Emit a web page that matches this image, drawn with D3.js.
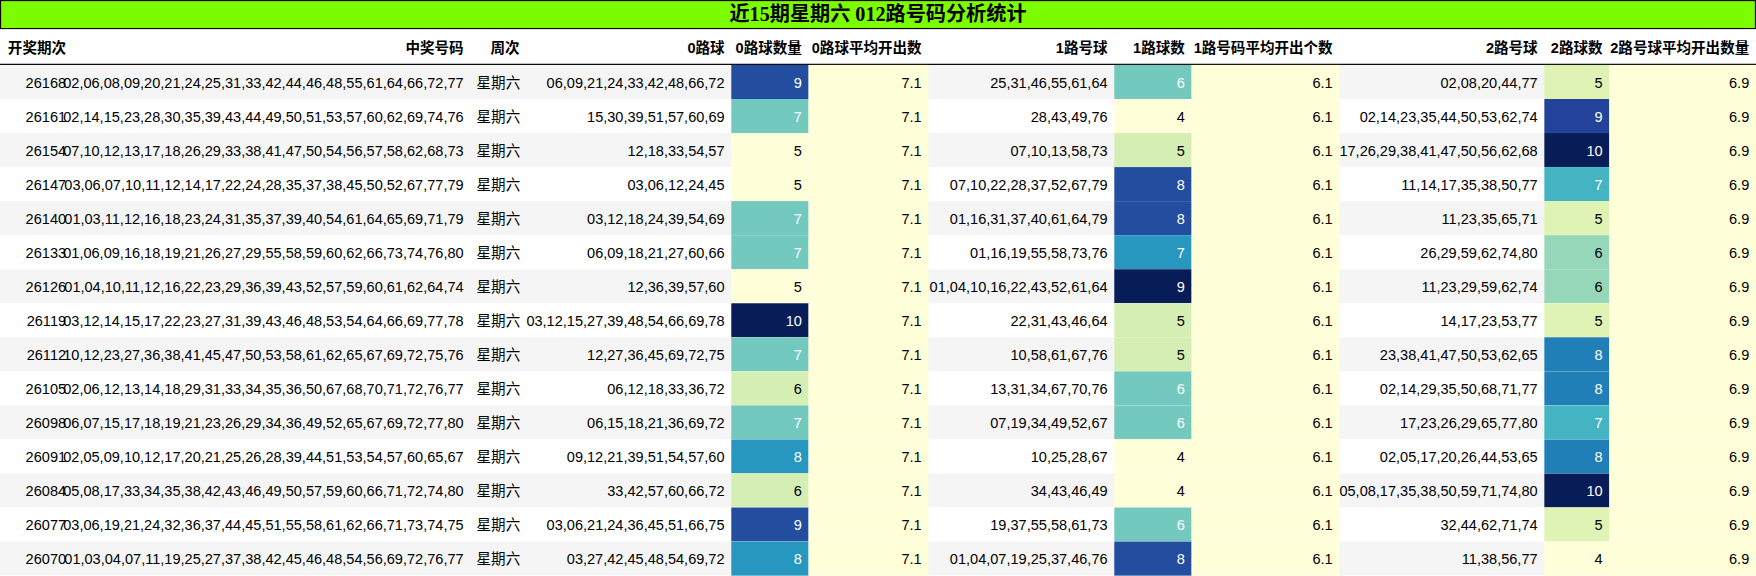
<!DOCTYPE html>
<html><head><meta charset="utf-8">
<script src="https://cdn.jsdelivr.net/npm/d3@7"></script>
<style>body{margin:0;background:#fff}svg{display:block}text{font-family:"Liberation Sans",Arial,"Noto Sans CJK SC",sans-serif;font-size:13px;fill:#000}</style>
</head><body><svg id="c" width="1756" height="576"></svg>
<script>
const title = "近15期星期六 012路号码分析统计";
const headers = ["开奖期次","中奖号码","周次","0路球","0路球数量","0路球平均开出数","1路号球","1路球数","1路号码平均开出个数","2路号球","2路球数","2路号球平均开出数量"];
const periods = ["26168","26161","26154","26147","26140","26133","26126","26119","26112","26105","26098","26091","26084","26077","26070"];
const winning = [
"02,06,08,09,20,21,24,25,31,33,42,44,46,48,55,61,64,66,72,77",
"02,14,15,23,28,30,35,39,43,44,49,50,51,53,57,60,62,69,74,76",
"07,10,12,13,17,18,26,29,33,38,41,47,50,54,56,57,58,62,68,73",
"03,06,07,10,11,12,14,17,22,24,28,35,37,38,45,50,52,67,77,79",
"01,03,11,12,16,18,23,24,31,35,37,39,40,54,61,64,65,69,71,79",
"01,06,09,16,18,19,21,26,27,29,55,58,59,60,62,66,73,74,76,80",
"01,04,10,11,12,16,22,23,29,36,39,43,52,57,59,60,61,62,64,74",
"03,12,14,15,17,22,23,27,31,39,43,46,48,53,54,64,66,69,77,78",
"10,12,23,27,36,38,41,45,47,50,53,58,61,62,65,67,69,72,75,76",
"02,06,12,13,14,18,29,31,33,34,35,36,50,67,68,70,71,72,76,77",
"06,07,15,17,18,19,21,23,26,29,34,36,49,52,65,67,69,72,77,80",
"02,05,09,10,12,17,20,21,25,26,28,39,44,51,53,54,57,60,65,67",
"05,08,17,33,34,35,38,42,43,46,49,50,57,59,60,66,71,72,74,80",
"03,06,19,21,24,32,36,37,44,45,51,55,58,61,62,66,71,73,74,75",
"01,03,04,07,11,19,25,27,37,38,42,45,46,48,54,56,69,72,76,77"];
const weekday = "星期六";
const road0 = ["06,09,21,24,33,42,48,66,72","15,30,39,51,57,60,69","12,18,33,54,57","03,06,12,24,45","03,12,18,24,39,54,69","06,09,18,21,27,60,66","12,36,39,57,60","03,12,15,27,39,48,54,66,69,78","12,27,36,45,69,72,75","06,12,18,33,36,72","06,15,18,21,36,69,72","09,12,21,39,51,54,57,60","33,42,57,60,66,72","03,06,21,24,36,45,51,66,75","03,27,42,45,48,54,69,72"];
const count0 = [9,7,5,5,7,7,5,10,7,6,7,8,6,9,8];
const road1 = ["25,31,46,55,61,64","28,43,49,76","07,10,13,58,73","07,10,22,28,37,52,67,79","01,16,31,37,40,61,64,79","01,16,19,55,58,73,76","01,04,10,16,22,43,52,61,64","22,31,43,46,64","10,58,61,67,76","13,31,34,67,70,76","07,19,34,49,52,67","10,25,28,67","34,43,46,49","19,37,55,58,61,73","01,04,07,19,25,37,46,76"];
const count1 = [6,4,5,8,8,7,9,5,5,6,6,4,4,6,8];
const road2 = ["02,08,20,44,77","02,14,23,35,44,50,53,62,74","17,26,29,38,41,47,50,56,62,68","11,14,17,35,38,50,77","11,23,35,65,71","26,29,59,62,74,80","11,23,29,59,62,74","14,17,23,53,77","23,38,41,47,50,53,62,65","02,14,29,35,50,68,71,77","17,23,26,29,65,77,80","02,05,17,20,26,44,53,65","05,08,17,35,38,50,59,71,74,80","32,44,62,71,74","11,38,56,77"];
const count2 = [5,9,10,7,5,6,6,5,8,8,7,8,10,5,4];
const avg0 = 7.1, avg1 = 6.1, avg2 = 6.9;

const edges = [0,65,420,470,653,722,829,995,1064,1196,1379,1437,1568];
const W = edges[edges.length-1];
const svg = d3.select("#c").append("g").attr("transform",`scale(${1756/1568})`);
const y = d3.scaleBand().domain(periods).range([58, 514]).padding(0);

svg.append("rect").attr("x",0.5).attr("y",0.5).attr("width",W-1).attr("height",25).attr("fill","#7cfc00").attr("stroke","#000");
svg.append("text").attr("x",W/2).attr("y",19).attr("text-anchor","middle").style("font-size","18px").style("font-weight","bold").style("font-family","'Liberation Serif','Noto Sans CJK SC',serif").text(title);

headers.forEach((h,i)=>{
  const t = svg.append("text").attr("y",47).style("font-weight","bold").text(h);
  if(i===0) t.attr("x",7);
  else t.attr("x",edges[i+1]-6).attr("text-anchor","end");
});
svg.append("line").attr("x1",0).attr("x2",W).attr("y1",57.5).attr("y2",57.5).attr("stroke","#000");

const colors = [count0,count1,count2].map(c=>d3.scaleSequential(d3.interpolateYlGnBu).domain(d3.extent(c)));
const avgFill = d3.interpolateYlGnBu(0);

periods.forEach((p,r)=>{
  const y0 = y(p), h = y.bandwidth(), ty = y0 + h/2 + 5;
  svg.append("rect").attr("x",0).attr("y",y0).attr("width",W).attr("height",h).attr("fill", r%2===0?"#f5f5f5":"#ffffff");
  const cells = [periods[r], winning[r], weekday, road0[r], count0[r], avg0.toFixed(1), road1[r], count1[r], avg1.toFixed(1), road2[r], count2[r], avg2.toFixed(1)];
  cells.forEach((v,i)=>{
    let fill=null, tc="#000";
    if(i===4||i===7||i===10){
      const k=(i-4)/3, sc=colors[k];
      fill=sc(v);
      const t=(v-sc.domain()[0])/(sc.domain()[1]-sc.domain()[0]);
      if(t>=0.4) tc="#fff";
    }
    if(i===5||i===8||i===11) fill=avgFill;
    if(fill) svg.append("rect").attr("x",edges[i]).attr("y",y0).attr("width",edges[i+1]-edges[i]).attr("height",h).attr("fill",fill);
    const t = svg.append("text").attr("y",ty).style("fill",tc).text(v);
    if(i===2) t.attr("x",(edges[i]+edges[i+1])/2).attr("text-anchor","middle");
    else t.attr("x",edges[i+1]-6).attr("text-anchor","end");
  });
});
</script></body></html>
